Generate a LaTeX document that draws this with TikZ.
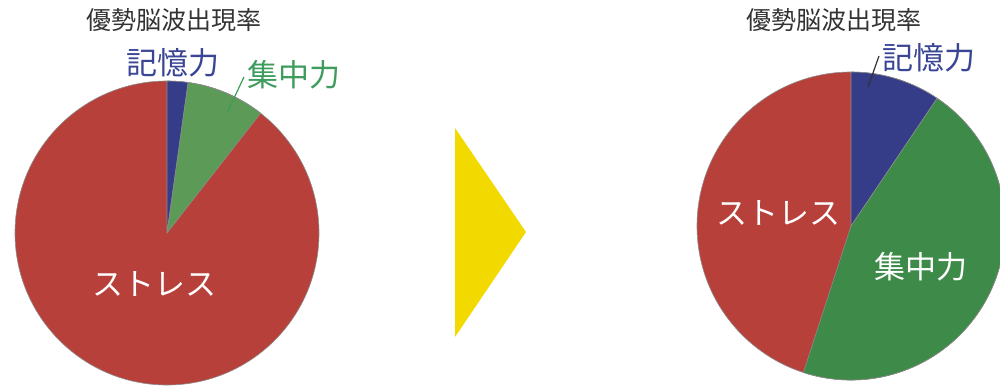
\documentclass[tikz,border=0pt]{standalone}
\usepackage{fontspec}
\newfontfamily\jp{Noto Sans CJK JP}
\definecolor{pred}{HTML}{B8403A}
\definecolor{pblue}{HTML}{353C88}
\definecolor{pgreenL}{HTML}{5C9A57}
\definecolor{pgreenR}{HTML}{3D8A49}
\definecolor{tblue}{HTML}{3A4595}
\definecolor{tgreen}{HTML}{3E9C5C}
\definecolor{arrowy}{HTML}{F2DA00}
\begin{document}
\begin{tikzpicture}[x=1pt,y=-1pt,
  title/.style={font=\jp\fontsize{25}{25}\selectfont, text=black!80},
  lab/.style={font=\jp\fontsize{31}{31}\selectfont},
  slice/.style={draw=black!45, line width=0.6pt, line join=round},
  leader/.style={line width=1.2pt}]
\useasboundingbox (0,0) rectangle (1000,388);
% ---------- left pie ----------
\coordinate (cl) at (167,233);
\fill[pred, slice] (cl) circle[radius=152];
\fill[pblue, slice] (cl) -- ++(-90:152) arc[start angle=-90, end angle=-82, radius=152] -- cycle;
\fill[pgreenL, slice] (cl) -- ++(-82:152) arc[start angle=-82, end angle=-52, radius=152] -- cycle;
% ---------- right pie ----------
\coordinate (cr) at (851,226);
\fill[pred, slice] (cr) circle[radius=154];
\fill[pblue, slice] (cr) -- ++(-90:154) arc[start angle=-90, end angle=-56, radius=154] -- cycle;
\fill[pgreenR, slice] (cr) -- ++(-56:154) arc[start angle=-56, end angle=108, radius=154] -- cycle;
% ---------- arrow ----------
\fill[arrowy] (455,128) -- (526,232) -- (455,337) -- cycle;
% ---------- titles ----------
\node[title] (t1) at (174,20) {優勢脳波出現率};
\node[title] (t2) at (834,20) {優勢脳波出現率};
% ---------- left labels ----------
\node[lab, text=tblue] (mem1) at (173,63) {記憶力};
\node[lab, text=tgreen] (con1) at (294,75) {集中力};
\coordinate (con1end) at (227,113);
\draw[leader, tgreen] (con1.west) ++(0,2) coordinate (con1start) -- (con1end);
\node[lab, text=white] (str1) at (154,284) {ストレス};
% ---------- right labels ----------
\node[lab, text=tblue] (mem2) at (929,58) {記憶力};
\coordinate (mem2end) at (868,87);
\draw[leader, black!80] (mem2.west) ++(0,-2) coordinate (mem2start) -- (mem2end);
\node[lab, text=white] (str2) at (778,213) {ストレス};
\node[lab, text=white] (con2) at (921,267) {集中力};
\end{tikzpicture}
\end{document}
